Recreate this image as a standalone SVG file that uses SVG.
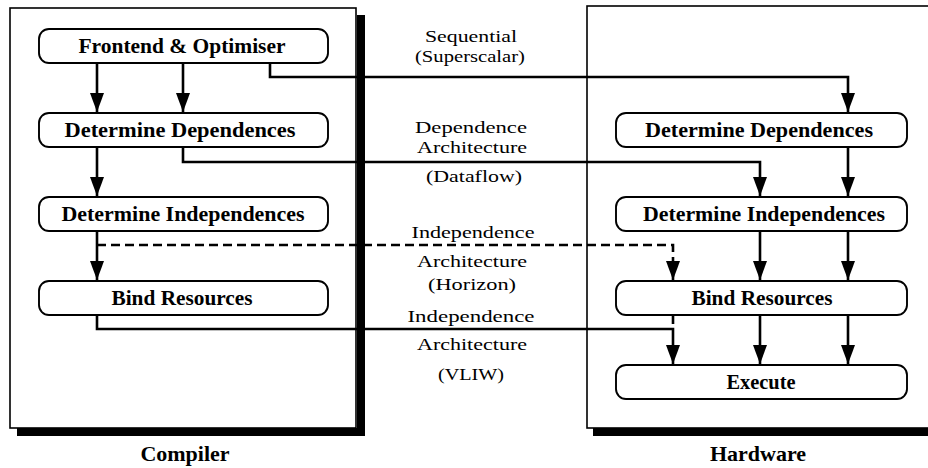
<svg xmlns="http://www.w3.org/2000/svg" width="928" height="468" viewBox="0 0 928 468">
  <style>
    .panel { fill: #fff; stroke: #000; stroke-width: 1.6; }
    .shadow { fill: #000; }
    .node rect { fill: #fff; stroke: #000; stroke-width: 1.9; }
    .node text { font-family: "Liberation Serif", "Times New Roman", serif; font-weight: bold; font-size: 20px; text-anchor: middle; fill: #000; }
    .label { font-family: "Liberation Serif", "Times New Roman", serif; font-size: 17.5px; text-anchor: middle; fill: #000; }
    .caption { font-family: "Liberation Serif", "Times New Roman", serif; font-weight: bold; font-size: 22px; text-anchor: middle; fill: #000; }
    .wire { fill: none; stroke: #000; stroke-width: 2.6; }
    .dashed { stroke-dasharray: 9 5; }
  </style>
  <defs>
    <!-- filled arrowhead, tip at the end of the path -->
    <marker id="arrow" markerUnits="userSpaceOnUse" markerWidth="19" markerHeight="14" refX="19" refY="7" orient="auto" viewBox="0 0 19 14">
      <path d="M0,0 L19,7 L0,14 Z" fill="#000"/>
    </marker>
  </defs>

  <rect width="928" height="468" fill="#fff"/>

  <!-- Compiler panel with drop shadow -->
  <g id="compiler-panel">
    <rect class="shadow" x="357" y="15" width="8" height="421"/>
    <rect class="shadow" x="17" y="428" width="348" height="8"/>
    <rect class="panel" x="10" y="8" width="346" height="420"/>
    <text class="caption" x="185" y="461">Compiler</text>
  </g>

  <!-- Hardware panel with drop shadow -->
  <g id="hardware-panel">
    <rect class="shadow" x="593" y="428" width="340" height="8"/>
    <rect class="panel" x="587" y="6" width="360" height="422"/>
    <text class="caption" x="758" y="461">Hardware</text>
  </g>

  <!-- Compiler stages -->
  <g id="c-frontend" class="node">
    <rect x="39" y="29" width="289" height="34" rx="10"/>
    <text x="182" y="53" textLength="207" lengthAdjust="spacingAndGlyphs">Frontend &amp; Optimiser</text>
  </g>
  <g id="c-dependences" class="node">
    <rect x="39" y="113" width="289" height="34" rx="10"/>
    <text x="180" y="137" textLength="231" lengthAdjust="spacingAndGlyphs">Determine Dependences</text>
  </g>
  <g id="c-independences" class="node">
    <rect x="39" y="197" width="289" height="34" rx="10"/>
    <text x="183" y="221" textLength="243" lengthAdjust="spacingAndGlyphs">Determine Independences</text>
  </g>
  <g id="c-bind" class="node">
    <rect x="39" y="281" width="289" height="34" rx="10"/>
    <text x="182" y="305" textLength="141" lengthAdjust="spacingAndGlyphs">Bind Resources</text>
  </g>

  <!-- Hardware stages -->
  <g id="h-dependences" class="node">
    <rect x="616" y="113" width="291" height="34" rx="10"/>
    <text x="759" y="137" textLength="228" lengthAdjust="spacingAndGlyphs">Determine Dependences</text>
  </g>
  <g id="h-independences" class="node">
    <rect x="616" y="197" width="291" height="34" rx="10"/>
    <text x="764" y="221" textLength="242" lengthAdjust="spacingAndGlyphs">Determine Independences</text>
  </g>
  <g id="h-bind" class="node">
    <rect x="616" y="281" width="291" height="34" rx="10"/>
    <text x="762" y="305" textLength="141" lengthAdjust="spacingAndGlyphs">Bind Resources</text>
  </g>
  <g id="h-execute" class="node">
    <rect x="616" y="365" width="291" height="34" rx="10"/>
    <text x="761" y="389" textLength="69" lengthAdjust="spacingAndGlyphs">Execute</text>
  </g>

  <!-- Connectors -->
  <g id="connectors">
    <path class="wire" d="M97,63 V112" marker-end="url(#arrow)"/>
    <path class="wire" d="M183,63 V112" marker-end="url(#arrow)"/>
    <path class="wire" d="M270,63 V77 H848 V112" marker-end="url(#arrow)"/>
    <path class="wire" d="M97,147 V196" marker-end="url(#arrow)"/>
    <path class="wire" d="M183,147 V162 H760 V196" marker-end="url(#arrow)"/>
    <path class="wire" d="M848,147 V196" marker-end="url(#arrow)"/>
    <path class="wire" d="M97,231 V280" marker-end="url(#arrow)"/>
    <path class="wire dashed" d="M97,245 H673 V280" marker-end="url(#arrow)"/>
    <path class="wire" d="M760,231 V280" marker-end="url(#arrow)"/>
    <path class="wire" d="M848,231 V280" marker-end="url(#arrow)"/>
    <path class="wire dashed" d="M673,316 V324"/>
    <path class="wire" d="M97,315 V329 H673 V364" marker-end="url(#arrow)"/>
    <path class="wire" d="M760,315 V364" marker-end="url(#arrow)"/>
    <path class="wire" d="M848,315 V364" marker-end="url(#arrow)"/>
  </g>

  <!-- Architecture labels -->
  <g id="labels">
    <text class="label" x="471" y="42" textLength="92" lengthAdjust="spacingAndGlyphs">Sequential</text>
    <text class="label" x="470" y="62" textLength="110" lengthAdjust="spacingAndGlyphs">(Superscalar)</text>
    <text class="label" x="471" y="133" textLength="112" lengthAdjust="spacingAndGlyphs">Dependence</text>
    <text class="label" x="472" y="153" textLength="110" lengthAdjust="spacingAndGlyphs">Architecture</text>
    <text class="label" x="474" y="182" textLength="96" lengthAdjust="spacingAndGlyphs">(Dataflow)</text>
    <text class="label" x="473" y="238" textLength="123" lengthAdjust="spacingAndGlyphs">Independence</text>
    <text class="label" x="472" y="267" textLength="110" lengthAdjust="spacingAndGlyphs">Architecture</text>
    <text class="label" x="472" y="290" textLength="88" lengthAdjust="spacingAndGlyphs">(Horizon)</text>
    <text class="label" x="471" y="322" textLength="127" lengthAdjust="spacingAndGlyphs">Independence</text>
    <text class="label" x="472" y="350" textLength="110" lengthAdjust="spacingAndGlyphs">Architecture</text>
    <text class="label" x="471" y="380" textLength="66" lengthAdjust="spacingAndGlyphs">(VLIW)</text>
  </g>
</svg>
